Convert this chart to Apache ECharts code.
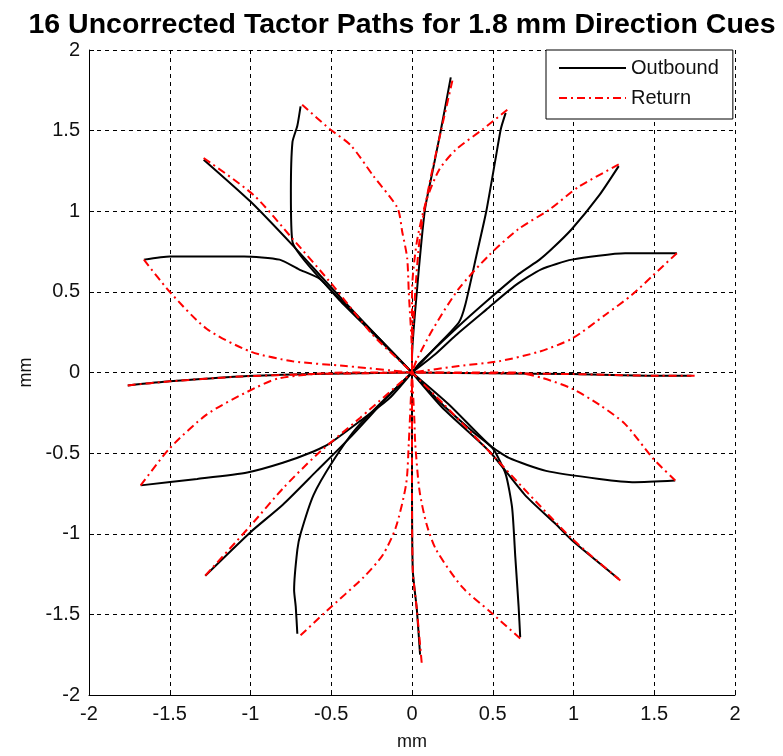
<!DOCTYPE html>
<html>
<head>
<meta charset="utf-8">
<script src="https://cdn.jsdelivr.net/npm/echarts@6/dist/echarts.min.js"></script>
<style>
  html, body { margin: 0; padding: 0; background: #fff; }
  #chart { width: 783px; height: 756px; }
</style>
</head>
<body>
<div id="chart"></div>
<script>
// Tick values shared by both axes (mm)
const axisTicks = [-2, -1.5, -1, -0.5, 0, 0.5, 1, 1.5, 2];

// Outbound paths (x, y in mm), one per cue direction, from centre to tip
const out000 = [[0,0],[0.5,-0.005],[1.0,-0.01],[1.5,-0.02],[1.73,-0.02]];
const out022 = [[0,0],[0.14,0.11],[0.27,0.23],[0.46,0.39],[0.64,0.54],[0.8,0.64],[0.99,0.70],[1.32,0.74],[1.64,0.74]];
const out045 = [[0,0],[0.05,0.06],[0.27,0.27],[0.46,0.44],[0.66,0.61],[0.79,0.70],[0.87,0.77],[0.99,0.89],[1.16,1.10],[1.28,1.28]];
const out067 = [[0,0],[0.15,0.16],[0.29,0.31],[0.33,0.42],[0.40,0.73],[0.46,1.0],[0.52,1.34],[0.55,1.51],[0.58,1.61]];
const out090 = [[0,0],[0,0.09],[0.03,0.5],[0.08,1.01],[0.13,1.26],[0.18,1.51],[0.24,1.83]];
const out112 = [[0,0],[-0.28,0.29],[-0.53,0.54],[-0.74,0.81],[-0.75,1.12],[-0.74,1.43],[-0.71,1.53],[-0.69,1.65]];
const out135 = [[0,0],[-0.26,0.27],[-0.53,0.56],[-0.74,0.79],[-1.0,1.06],[-1.29,1.32]];
const out157 = [[0,0],[-0.26,0.26],[-0.45,0.45],[-0.57,0.58],[-0.7,0.64],[-0.82,0.70],[-1.04,0.72],[-1.5,0.72],[-1.66,0.70]];
const out180 = [[0,0],[-0.61,-0.01],[-1.06,-0.025],[-1.5,-0.055],[-1.76,-0.08]];
const out202 = [[0,0],[-0.14,-0.16],[-0.32,-0.30],[-0.51,-0.44],[-0.61,-0.49],[-0.80,-0.56],[-1.02,-0.62],[-1.33,-0.66],[-1.68,-0.70]];
const out225 = [[0,0],[-0.14,-0.14],[-0.39,-0.41],[-0.59,-0.61],[-0.8,-0.82],[-1.0,-0.99],[-1.28,-1.26]];
const out247 = [[0,0],[-0.34,-0.34],[-0.49,-0.55],[-0.61,-0.76],[-0.69,-1.0],[-0.71,-1.1],[-0.73,-1.35],[-0.72,-1.45],[-0.71,-1.62]];
const out270 = [[0,0],[0,-0.65],[0.005,-1.23],[0.03,-1.47],[0.05,-1.75]];
const out292 = [[0,0],[0.19,-0.2],[0.38,-0.37],[0.5,-0.47],[0.58,-0.63],[0.62,-0.84],[0.64,-1.15],[0.66,-1.45],[0.67,-1.64]];
const out315 = [[0,0],[0.19,-0.22],[0.48,-0.49],[0.70,-0.76],[0.89,-0.94],[0.99,-1.04],[1.28,-1.28]];
const out337 = [[0,0],[0.23,-0.2],[0.48,-0.45],[0.6,-0.53],[0.83,-0.61],[1.16,-0.66],[1.38,-0.68],[1.63,-0.67]];

// Return paths (x, y in mm), from tip back to centre
const ret000 = [[1.75,-0.02],[1.5,-0.02],[1.0,-0.01],[0.5,-0.005],[0,0]];
const ret022 = [[1.64,0.74],[1.49,0.60],[1.36,0.48],[1.20,0.36],[0.99,0.21],[0.79,0.13],[0.54,0.07],[0.29,0.04],[0,0]];
const ret045 = [[1.28,1.29],[1.03,1.15],[0.85,1.01],[0.66,0.89],[0.48,0.73],[0.29,0.52],[0.13,0.27],[0.03,0.08],[0,0]];
const ret067 = [[0.59,1.63],[0.44,1.51],[0.27,1.38],[0.17,1.26],[0.09,1.07],[0.03,0.81],[0,0.5],[0,0.09],[0,0]];
const ret090 = [[0.25,1.81],[0.18,1.5],[0.11,1.18],[0.05,0.85],[0.02,0.5],[0,0.1],[0,0]];
const ret112 = [[-0.68,1.66],[-0.51,1.51],[-0.38,1.41],[-0.24,1.22],[-0.09,1.02],[-0.06,0.87],[-0.03,0.71],[-0.02,0.5],[0,0.09],[0,0]];
const ret135 = [[-1.29,1.33],[-0.98,1.10],[-0.74,0.83],[-0.49,0.54],[-0.24,0.23],[-0.02,0.02],[0,0]];
const ret157 = [[-1.66,0.70],[-1.5,0.5],[-1.27,0.27],[-1.0,0.13],[-0.74,0.07],[-0.41,0.04],[0,0]];
const ret180 = [[-1.76,-0.08],[-1.5,-0.055],[-1.06,-0.025],[-0.61,-0.01],[0,0]];
const ret202 = [[-1.68,-0.70],[-1.5,-0.47],[-1.27,-0.26],[-1.02,-0.12],[-0.82,-0.035],[-0.41,0],[0,0]];
const ret225 = [[-1.28,-1.26],[-1.0,-0.95],[-0.8,-0.72],[-0.59,-0.51],[-0.32,-0.28],[0,0]];
const ret247 = [[-0.69,-1.63],[-0.53,-1.48],[-0.30,-1.27],[-0.18,-1.13],[-0.1,-0.96],[-0.036,-0.69],[-0.02,-0.44],[0,0]];
const ret270 = [[0.06,-1.80],[0.03,-1.47],[0.005,-1.23],[0,-0.65],[0,0]];
const ret292 = [[0.67,-1.65],[0.48,-1.48],[0.31,-1.33],[0.15,-1.1],[0.09,-0.94],[0.046,-0.73],[0.02,-0.44],[0.015,-0.3],[0,0]];
const ret315 = [[1.29,-1.29],[0.99,-1.03],[0.72,-0.75],[0.45,-0.46],[0.2,-0.2],[0,0]];
const ret337 = [[1.63,-0.67],[1.49,-0.53],[1.32,-0.32],[1.16,-0.2],[0.99,-0.10],[0.81,-0.035],[0.64,0],[0.3,0],[0,0]];

const outboundPaths = [out000, out022, out045, out067, out090, out112, out135, out157,
                       out180, out202, out225, out247, out270, out292, out315, out337];
const returnPaths   = [ret000, ret022, ret045, ret067, ret090, ret112, ret135, ret157,
                       ret180, ret202, ret225, ret247, ret270, ret292, ret315, ret337];

const FONT = '"Liberation Sans", Arial, Helvetica, sans-serif';

const series = [];
outboundPaths.forEach((path, i) => {
  series.push({
    name: 'Outbound', type: 'line', data: path, symbol: 'none', smooth: 0.2,
    lineStyle: { color: '#000', width: 2, type: 'solid' },
    itemStyle: { color: '#000' }, z: 3
  });
  series.push({
    name: 'Return', type: 'line', data: returnPaths[i], symbol: 'none', smooth: 0.25,
    lineStyle: { color: '#ff0000', width: 2, type: [8, 4, 2, 4] },
    itemStyle: { color: '#ff0000' }, z: 4
  });
});

function axisCommon(name, gap) {
  return {
    type: 'value', min: -2, max: 2, interval: 0.5,
    name: name, nameLocation: 'middle', nameGap: gap,
    nameTextStyle: { fontFamily: FONT, fontSize: 18, color: '#111' },
    axisLine: { show: true, onZero: false, lineStyle: { color: '#000', width: 1 } },
    axisTick: { show: true, inside: true, length: 5, lineStyle: { color: '#000' } },
    axisLabel: {
      fontFamily: FONT, fontSize: 20, color: '#111', margin: 9,
      formatter: v => String(axisTicks.find(t => Math.abs(t - v) < 1e-9) ?? v)
    },
    splitLine: { show: true, lineStyle: { color: '#000', width: 1, type: [4, 4] } }
  };
}

const chart = echarts.init(document.getElementById('chart'), null, { renderer: 'canvas' });
chart.setOption({
  backgroundColor: '#fff',
  animation: false,
  title: {
    text: '16 Uncorrected Tactor Paths for 1.8 mm Direction Cues',
    left: 397, top: 6, textAlign: 'center',
    textStyle: { fontFamily: FONT, fontSize: 28.5, fontWeight: 'bold', color: '#000' }
  },
  legend: {
    data: ['Outbound', 'Return'],
    orient: 'vertical', left: 546, top: 50,
    padding: [8, 14, 11, 12], itemGap: 10,
    itemWidth: 67, itemHeight: 22,
    itemStyle: { opacity: 0 },
    backgroundColor: '#fff', borderColor: '#000', borderWidth: 1, borderRadius: 0,
    textStyle: { fontFamily: FONT, fontSize: 20, color: '#111' }
  },
  grid: { left: 89, right: 48, top: 50, bottom: 59, containLabel: false },
  xAxis: axisCommon('mm', 38),
  yAxis: axisCommon('mm', 54),
  series: series
});
</script>
</body>
</html>
